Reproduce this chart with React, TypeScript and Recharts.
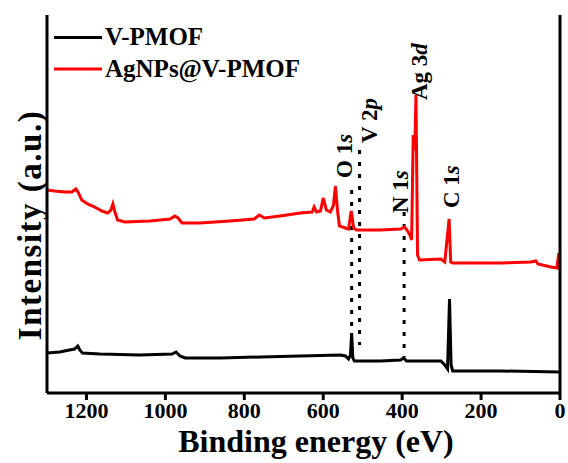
import { LineChart, Line, XAxis, YAxis, ReferenceLine, ReferenceDot } from 'recharts'

const FONT = '"Liberation Serif", "Times New Roman", serif'

// V-PMOF survey spectrum (binding energy in eV, intensity in a.u.)
const vpmofEnergy = [
  1300, 1268, 1243, 1230, 1222, 1217, 1210, 1166, 1065, 983, 973, 963, 950, 861, 760, 658, 556,
  544, 536, 531, 528, 525, 521, 455, 404, 396, 389, 302, 292, 285, 280, 276, 272, 150, 0,
]
const vpmofIntensity = [
  40, 41, 43, 44, 47, 43, 40, 39, 38, 39, 41, 37, 35, 35, 36, 37, 38,
  37, 34, 38, 60, 35, 32, 32, 33, 35, 32, 32, 28, 24, 94, 28, 22, 22, 21,
]

// AgNPs@V-PMOF survey spectrum
const agEnergy = [
  1300, 1281, 1255, 1237, 1227, 1220, 1212, 1197, 1179, 1161, 1146, 1138, 1133, 1128, 1121, 1103,
  1039, 988, 976, 968, 958, 912, 836, 775, 762, 749, 709, 658, 628, 623, 617, 607, 600, 592, 582,
  574, 569, 564, 559, 544, 536, 529, 523, 516, 455, 404, 394, 386, 379, 376, 372, 368, 365, 361,
  356, 302, 292, 281, 277, 272, 150, 74, 61, 56, 23, 8, 3, 0,
]
const agIntensity = [
  203, 202, 201, 201, 204, 200, 193, 189, 186, 182, 180, 183, 189, 181, 173, 171,
  172, 174, 177, 175, 170, 170, 172, 174, 178, 175, 177, 180, 181, 186, 181, 182, 195, 183, 181,
  188, 207, 183, 167, 165, 164, 182, 165, 163, 163, 164, 166, 162, 157, 153, 258, 243, 298, 138,
  133, 134, 131, 174, 131, 130, 130, 131, 132, 129, 126, 125, 140, 123,
]

// dotted marker lines: energy, from / to intensity
const markerEnergy = [528, 508, 395]
const markerTop = [203, 243, 181]
const markerBottom = [60, 48, 36]

// peak labels: text, italic suffix, energy and intensity where the label starts
const peakText = ['O 1', 'V 2', 'N 1', 'Ag 3', 'C 1']
const peakItalic = ['s', 'p', 's', 'd', 's']
const peakEnergy = [528, 463, 385, 338, 257]
const peakIntensity = [215, 250, 180, 293, 185]

const xTicks = [0, 200, 400, 600, 800, 1000, 1200]

const vpmofData = vpmofEnergy.map((x, i) => ({ x, y: vpmofIntensity[i] }))
const agData = agEnergy.map((x, i) => ({ x, y: agIntensity[i] }))

const frameLine = { stroke: '#000', strokeWidth: 3 }

function PeakLabel(props: any) {
  const { viewBox, text, italic } = props
  const cx = viewBox.x + (viewBox.width || 0) / 2
  const cy = viewBox.y + (viewBox.height || 0) / 2
  return (
    <text
      transform={`translate(${cx},${cy}) rotate(-90)`}
      textAnchor="start"
      fontFamily={FONT}
      fontWeight="bold"
      fontSize={23}
      fill="#000"
    >
      {text}
      <tspan fontStyle="italic">{italic}</tspan>
    </text>
  )
}

function LegendBox() {
  return (
    <svg width={320} height={90} style={{ position: 'absolute', left: 0, top: 0 }}>
      <line x1={54} x2={102} y1={37.5} y2={37.5} stroke="#000" strokeWidth={3} />
      <text x={105} y={45} fontFamily={FONT} fontWeight="bold" fontSize={25} fill="#000">
        V-PMOF
      </text>
      <line x1={54} x2={102} y1={69} y2={69} stroke="#ff0000" strokeWidth={3} />
      <text x={105} y={77} fontFamily={FONT} fontWeight="bold" fontSize={25} fill="#000">
        AgNPs@V-PMOF
      </text>
    </svg>
  )
}

export default function App() {
  return (
    <div style={{ position: 'absolute', left: 0, top: 0, width: 568, height: 463, background: '#fff' }}>
      <LineChart width={568} height={463} margin={{ top: 15, right: 0, left: 0, bottom: 0 }}>
        <XAxis
          type="number"
          dataKey="x"
          domain={[0, 1300]}
          reversed
          allowDataOverflow
          ticks={xTicks}
          height={70}
          axisLine={frameLine}
          tickLine={frameLine}
          tickSize={7}
          tickMargin={2}
          tick={{ fill: '#000', fontSize: 22, fontWeight: 'bold', fontFamily: FONT }}
          label={{
            content: () => (
              <text x={316} y={452} textAnchor="middle" fontFamily={FONT} fontWeight="bold" fontSize={32} fill="#000">
                Binding energy (eV)
              </text>
            ),
          }}
        />
        <XAxis
          xAxisId="top"
          orientation="top"
          type="number"
          domain={[0, 1300]}
          reversed
          height={0}
          axisLine={frameLine}
          tick={false}
          tickLine={false}
        />
        <YAxis
          type="number"
          domain={[0, 378]}
          width={47}
          tick={false}
          tickLine={false}
          axisLine={frameLine}
          label={{
            content: () => (
              <text
                transform="translate(41,225) rotate(-90)"
                textAnchor="middle"
                fontFamily={FONT}
                fontWeight="bold"
                fontSize={33}
                letterSpacing={1.5}
                fill="#000"
              >
                Intensity (a.u.)
              </text>
            ),
          }}
        />
        <YAxis
          yAxisId="right"
          orientation="right"
          type="number"
          domain={[0, 378]}
          width={8}
          tick={false}
          tickLine={false}
          axisLine={frameLine}
        />
        {markerEnergy.map((e, i) => (
          <ReferenceLine
            key={'m' + i}
            segment={[
              { x: e, y: markerTop[i] },
              { x: e, y: markerBottom[i] },
            ]}
            stroke="#000"
            strokeWidth={3}
            strokeDasharray="4 8"
          />
        ))}
        <Line
          data={vpmofData}
          dataKey="y"
          type="linear"
          stroke="#000"
          strokeWidth={3}
          dot={false}
          name="V-PMOF"
          isAnimationActive={false}
        />
        <Line
          data={agData}
          dataKey="y"
          type="linear"
          stroke="#ff0000"
          strokeWidth={3}
          dot={false}
          name="AgNPs@V-PMOF"
          isAnimationActive={false}
        />
        {peakText.map((t, i) => (
          <ReferenceDot
            key={'p' + i}
            x={peakEnergy[i]}
            y={peakIntensity[i]}
            r={0}
            fill="none"
            stroke="none"
            label={{ content: (p: any) => <PeakLabel {...p} text={t} italic={peakItalic[i]} /> }}
          />
        ))}
      </LineChart>
      <LegendBox />
    </div>
  )
}
